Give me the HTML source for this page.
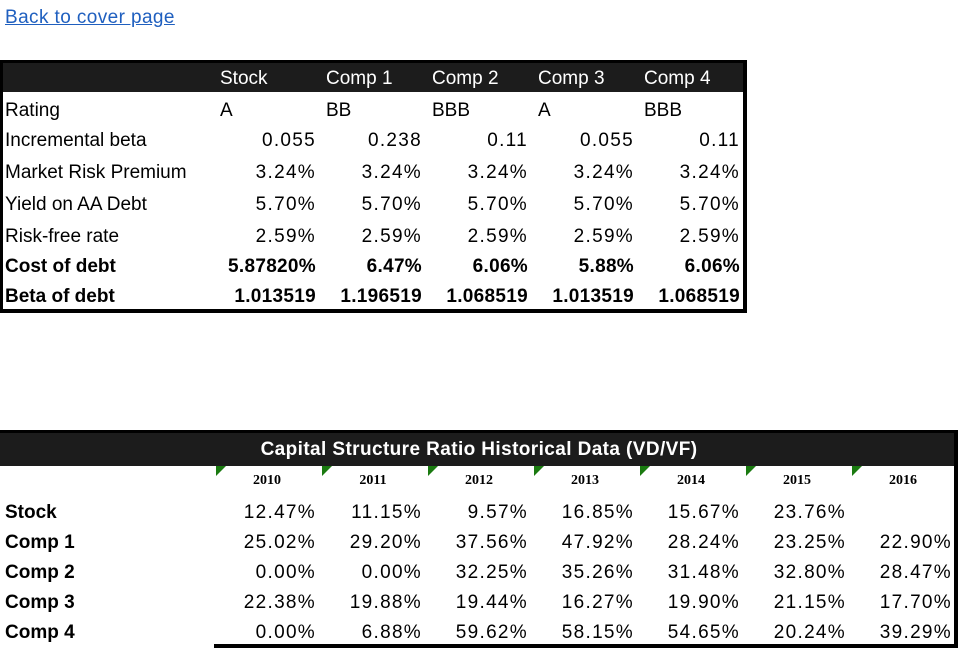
<!DOCTYPE html>
<html><head><meta charset="utf-8"><style>
body{margin:0;width:958px;height:652px;background:#fff;position:relative;overflow:hidden;font-family:"Liberation Sans",sans-serif;font-size:19px;color:#000}
.a{position:absolute;white-space:nowrap;line-height:22px;margin-top:2px}
.r{text-align:right;width:100px;letter-spacing:1.3px;margin-right:-1.3px}
.r.b{letter-spacing:0.3px;margin-right:0}
.b{font-weight:bold}
.y{position:absolute;font-family:"Liberation Serif",serif;font-weight:bold;font-size:14px;width:106px;text-align:center;top:473px}
.g{position:absolute;top:466px;width:0;height:0;border-top:10px solid #1a7a10;border-right:10px solid transparent}
.bk{position:absolute;background:#000}
</style></head><body>
<div class="a" style="left:5px;top:5px;color:#1f5fbf;text-decoration:underline;font-size:19px;letter-spacing:0.4px">Back to cover page </div>

<div class="bk" style="left:0;top:60px;width:747px;height:32px;background:#1c1c1c;border-top:3px solid #000;box-sizing:border-box"></div>
<div class="bk" style="left:0;top:60px;width:3px;height:253px"></div>
<div class="bk" style="left:743px;top:60px;width:4px;height:253px"></div>
<div class="bk" style="left:0;top:309px;width:747px;height:4px"></div>
<div class="a" style="left:220px;top:66px;color:#fff">Stock</div>
<div class="a" style="left:326px;top:66px;color:#fff">Comp 1</div>
<div class="a" style="left:432px;top:66px;color:#fff">Comp 2</div>
<div class="a" style="left:538px;top:66px;color:#fff">Comp 3</div>
<div class="a" style="left:644px;top:66px;color:#fff">Comp 4</div>

<div class="a" style="left:5px;top:98px">Rating</div>
<div class="a" style="left:220px;top:98px">A</div><div class="a" style="left:326px;top:98px">BB</div><div class="a" style="left:432px;top:98px">BBB</div><div class="a" style="left:538px;top:98px">A</div><div class="a" style="left:644px;top:98px">BBB</div>

<div class="a" style="left:5px;top:128px">Incremental beta</div>
<div class="a r" style="left:216px;top:128px">0.055</div><div class="a r" style="left:322px;top:128px">0.238</div><div class="a r" style="left:428px;top:128px">0.11</div><div class="a r" style="left:534px;top:128px">0.055</div><div class="a r" style="left:640px;top:128px">0.11</div>

<div class="a" style="left:5px;top:160px">Market Risk Premium</div>
<div class="a r" style="left:216px;top:160px">3.24%</div><div class="a r" style="left:322px;top:160px">3.24%</div><div class="a r" style="left:428px;top:160px">3.24%</div><div class="a r" style="left:534px;top:160px">3.24%</div><div class="a r" style="left:640px;top:160px">3.24%</div>

<div class="a" style="left:5px;top:192px">Yield on AA Debt</div>
<div class="a r" style="left:216px;top:192px">5.70%</div><div class="a r" style="left:322px;top:192px">5.70%</div><div class="a r" style="left:428px;top:192px">5.70%</div><div class="a r" style="left:534px;top:192px">5.70%</div><div class="a r" style="left:640px;top:192px">5.70%</div>

<div class="a" style="left:5px;top:224px">Risk-free rate</div>
<div class="a r" style="left:216px;top:224px">2.59%</div><div class="a r" style="left:322px;top:224px">2.59%</div><div class="a r" style="left:428px;top:224px">2.59%</div><div class="a r" style="left:534px;top:224px">2.59%</div><div class="a r" style="left:640px;top:224px">2.59%</div>

<div class="a b" style="left:5px;top:254px">Cost of debt</div>
<div class="a r b" style="left:216px;top:254px">5.87820%</div><div class="a r b" style="left:322px;top:254px">6.47%</div><div class="a r b" style="left:428px;top:254px">6.06%</div><div class="a r b" style="left:534px;top:254px">5.88%</div><div class="a r b" style="left:640px;top:254px">6.06%</div>

<div class="a b" style="left:5px;top:284px">Beta of debt</div>
<div class="a r b" style="left:216px;top:284px">1.013519</div><div class="a r b" style="left:322px;top:284px">1.196519</div><div class="a r b" style="left:428px;top:284px">1.068519</div><div class="a r b" style="left:534px;top:284px">1.013519</div><div class="a r b" style="left:640px;top:284px">1.068519</div>

<div class="bk" style="left:0;top:430px;width:958px;height:36px;background:#1c1c1c;border-top:3px solid #000;box-sizing:border-box"></div>
<div class="bk" style="left:954px;top:430px;width:4px;height:218px"></div>
<div class="bk" style="left:214px;top:644px;width:744px;height:4px"></div>
<div class="a b" style="left:0;width:958px;text-align:center;top:437px;color:#fff;font-size:19px;letter-spacing:0.4px">Capital Structure Ratio Historical Data (VD/VF)</div>

<div class="g" style="left:216px"></div><div class="g" style="left:322px"></div><div class="g" style="left:428px"></div><div class="g" style="left:534px"></div><div class="g" style="left:640px"></div><div class="g" style="left:746px"></div><div class="g" style="left:852px"></div>
<div class="y" style="left:214px">2010</div><div class="y" style="left:320px">2011</div><div class="y" style="left:426px">2012</div><div class="y" style="left:532px">2013</div><div class="y" style="left:638px">2014</div><div class="y" style="left:744px">2015</div><div class="y" style="left:850px">2016</div>

<div class="a b" style="left:5px;top:500px">Stock</div>
<div class="a r" style="left:216px;top:500px">12.47%</div><div class="a r" style="left:322px;top:500px">11.15%</div><div class="a r" style="left:428px;top:500px">9.57%</div><div class="a r" style="left:534px;top:500px">16.85%</div><div class="a r" style="left:640px;top:500px">15.67%</div><div class="a r" style="left:746px;top:500px">23.76%</div>

<div class="a b" style="left:5px;top:530px">Comp 1</div>
<div class="a r" style="left:216px;top:530px">25.02%</div><div class="a r" style="left:322px;top:530px">29.20%</div><div class="a r" style="left:428px;top:530px">37.56%</div><div class="a r" style="left:534px;top:530px">47.92%</div><div class="a r" style="left:640px;top:530px">28.24%</div><div class="a r" style="left:746px;top:530px">23.25%</div><div class="a r" style="left:852px;top:530px">22.90%</div>

<div class="a b" style="left:5px;top:560px">Comp 2</div>
<div class="a r" style="left:216px;top:560px">0.00%</div><div class="a r" style="left:322px;top:560px">0.00%</div><div class="a r" style="left:428px;top:560px">32.25%</div><div class="a r" style="left:534px;top:560px">35.26%</div><div class="a r" style="left:640px;top:560px">31.48%</div><div class="a r" style="left:746px;top:560px">32.80%</div><div class="a r" style="left:852px;top:560px">28.47%</div>

<div class="a b" style="left:5px;top:590px">Comp 3</div>
<div class="a r" style="left:216px;top:590px">22.38%</div><div class="a r" style="left:322px;top:590px">19.88%</div><div class="a r" style="left:428px;top:590px">19.44%</div><div class="a r" style="left:534px;top:590px">16.27%</div><div class="a r" style="left:640px;top:590px">19.90%</div><div class="a r" style="left:746px;top:590px">21.15%</div><div class="a r" style="left:852px;top:590px">17.70%</div>

<div class="a b" style="left:5px;top:620px">Comp 4</div>
<div class="a r" style="left:216px;top:620px">0.00%</div><div class="a r" style="left:322px;top:620px">6.88%</div><div class="a r" style="left:428px;top:620px">59.62%</div><div class="a r" style="left:534px;top:620px">58.15%</div><div class="a r" style="left:640px;top:620px">54.65%</div><div class="a r" style="left:746px;top:620px">20.24%</div><div class="a r" style="left:852px;top:620px">39.29%</div>
</body></html>
